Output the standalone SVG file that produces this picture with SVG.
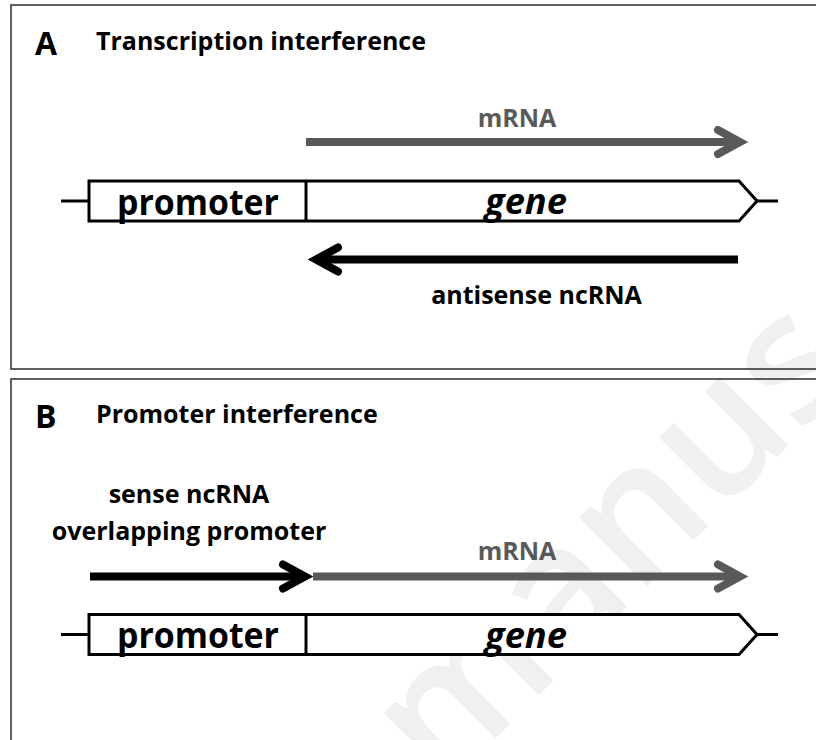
<svg xmlns="http://www.w3.org/2000/svg" width="816" height="740" viewBox="0 0 816 740">
<style>
.panel{fill:none;stroke:#2b2b2b;stroke-width:1.5}
.box{fill:#fff;stroke:#000;stroke-width:3;stroke-linejoin:miter}
.stub{stroke:#000;stroke-width:3}
.t{font-family:"Open Sans","Liberation Sans",sans-serif;font-weight:bold;fill:#000}
.gray{fill:#595959}
.lbl{font-size:25px}
.big{font-size:32px}
.inbox{font-size:36px}
.gene{font-size:36px;font-style:italic}
.shaft{fill:none;stroke-width:8;stroke-linecap:butt}
.head{fill:none;stroke-width:8;stroke-linecap:round;stroke-linejoin:miter}
.k{stroke:#000}
.g{stroke:#595959}
.wm{font-family:"Open Sans","Liberation Sans",sans-serif;font-size:180px;font-weight:600;fill:#f0f0f0}
</style>
<rect width="816" height="740" fill="#fff"/>
<text class="wm" transform="translate(442,792) rotate(-45)">manus</text>

<g id="panelA">
<rect class="panel" x="11" y="5" width="820" height="364"/>
<text class="t big" x="35" y="55">A</text>
<text class="t lbl" x="96" y="50">Transcription interference</text>
</g>
<g id="panelB">
<rect class="panel" x="11" y="379" width="820" height="380"/>
<text class="t big" x="35" y="428">B</text>
<text class="t lbl" x="96" y="423">Promoter interference</text>
</g>

<g id="geneA">
<line class="stub" x1="61" y1="201" x2="89" y2="201"/>
<line class="stub" x1="757" y1="201" x2="778" y2="201"/>
<path class="box" d="M89,181 H739 L757,201 L739,221 H89 Z"/>
<line class="stub" x1="306" y1="181" x2="306" y2="221"/>
<text class="t inbox" x="198" y="215" text-anchor="middle" textLength="162" lengthAdjust="spacingAndGlyphs">promoter</text>
<text class="t gene" x="526" y="214" text-anchor="middle" textLength="82" lengthAdjust="spacingAndGlyphs">gene</text>
</g>

<g id="geneB">
<line class="stub" x1="61" y1="634.5" x2="89" y2="634.5"/>
<line class="stub" x1="757" y1="634.5" x2="778" y2="634.5"/>
<path class="box" d="M89,614.5 H739 L757,634.5 L739,654.5 H89 Z"/>
<line class="stub" x1="306" y1="614.5" x2="306" y2="654.5"/>
<text class="t inbox" x="198" y="648" text-anchor="middle" textLength="162" lengthAdjust="spacingAndGlyphs">promoter</text>
<text class="t gene" x="526" y="648" text-anchor="middle" textLength="82" lengthAdjust="spacingAndGlyphs">gene</text>
</g>

<g id="connectors">
<g id="mRNA-A">
<line class="shaft g" x1="306" y1="142" x2="740" y2="142"/>
<polyline class="head g" points="718,130 740,142 718,154"/>
</g>
<g id="antisense-A">
<line class="shaft k" x1="738" y1="259.5" x2="316" y2="259.5"/>
<polyline class="head k" points="338,247.5 316,259.5 338,271.5"/>
</g>
<g id="mRNA-B">
<line class="shaft g" x1="313" y1="576.5" x2="740" y2="576.5"/>
<polyline class="head g" points="718,564.5 740,576.5 718,588.5"/>
</g>
<g id="sense-B">
<line class="shaft k" x1="90" y1="576.5" x2="305" y2="576.5"/>
<polyline class="head k" points="283,564.5 305,576.5 283,588.5"/>
</g>
</g>

<g id="labels">
<text class="t lbl gray" x="517" y="127" text-anchor="middle">mRNA</text>
<text class="t lbl" x="536.5" y="304" text-anchor="middle">antisense ncRNA</text>
<text class="t lbl gray" x="517" y="560" text-anchor="middle">mRNA</text>
<text class="t lbl" x="189" y="503" text-anchor="middle">sense ncRNA</text>
<text class="t lbl" x="189" y="540" text-anchor="middle">overlapping promoter</text>
</g>
</svg>
